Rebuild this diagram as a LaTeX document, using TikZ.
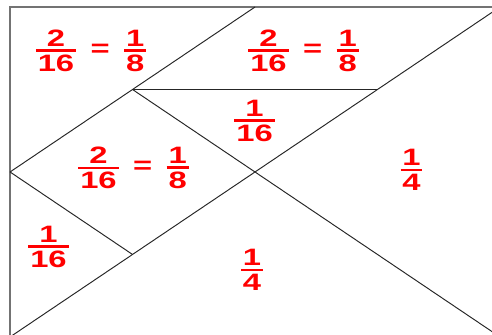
\documentclass[tikz,border=0pt]{standalone}
\usepackage{fontspec}
\setmainfont{Liberation Sans}
\usetikzlibrary{positioning}

% Bruch mit dickem Strich
\newcommand{\pfrac}[2]{$\vcenter{\offinterlineskip
  \halign{\hfil\kern1.5pt##\kern1.5pt\hfil\cr
    #1\cr\noalign{\kern3pt}
    \omit\leaders\hrule height 3.2pt\hfill\cr
    \noalign{\kern3pt}
    #2\cr}}$}

\begin{document}
\begin{tikzpicture}[x=4.9cm, y=3.3cm,
		frame/.style={draw=black!55, line width=1.6pt},
		cut/.style={draw=black!85, line width=1.1pt},
		part/.style={text=red, font=\fontsize{27}{32}\selectfont\bfseries, xscale=1.38, inner sep=0pt}]
		\useasboundingbox (-0.082,0.024) rectangle (3.935,4.085);
		
		% Ecken und Teilpunkte
		\coordinate (ll) at (0,0);
		\coordinate (lr) at (4,0);
		\coordinate (ur) at (4,4);
		\coordinate (ul) at (0,4);
		\coordinate (tm) at (2,4);
		\coordinate (lm) at (0,2);
		\coordinate (c)  at (2,2);
		\coordinate (p)  at (1,3);
		\coordinate (q)  at (3,3);
		\coordinate (s)  at (1,1);
		
		% Rahmen
		\draw[frame] (ll) rectangle (ur);
		
		% Schnittlinien
		\draw[cut] (tm) -- (lm);
		\draw[cut] (p) -- (q);
		\draw[cut] (p) -- (lr);
		\draw[cut] (lm) -- (s);
		\draw[cut] (ll) -- (ur);
		
		% Anteile
		\node[part] (tl)  at (0.661,3.467) {\pfrac{2}{16}\hspace{12pt}=\hspace{12pt}\pfrac{1}{8}};
		\node[part] (tr)  at (2.396,3.467) {\pfrac{2}{16}\hspace{12pt}=\hspace{12pt}\pfrac{1}{8}};
		\node[part] (mid) at (1.996,2.618) {\pfrac{1}{16}};
		\node[part] (sq)  at (1.008,2.048) {\pfrac{2}{16}\hspace{12pt}=\hspace{12pt}\pfrac{1}{8}};
		\node[part] (rt)  at (3.278,2.024) {\pfrac{1}{4}};
		\node[part] (lt)  at (0.314,1.091) {\pfrac{1}{16}};
		\node[part] (bt)  at (1.976,0.812) {\pfrac{1}{4}};
		
	\end{tikzpicture}
\end{document}
